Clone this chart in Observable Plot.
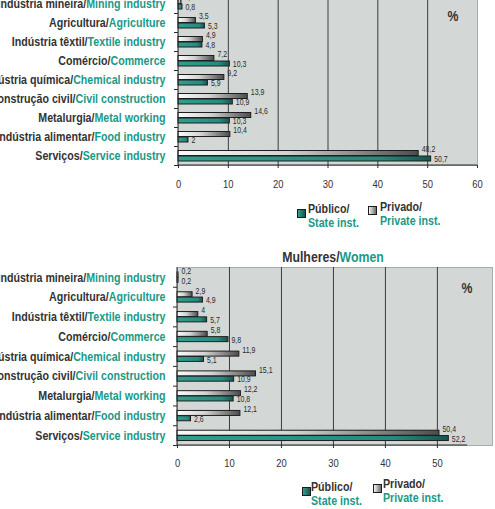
<!DOCTYPE html>
<html>
<head>
<meta charset="utf-8">
<script src="https://cdn.jsdelivr.net/npm/d3@7"></script>
<script src="https://cdn.jsdelivr.net/npm/@observablehq/plot@0.6"></script>
<style>
  html, body { margin: 0; padding: 0; }
  body { width: 495px; height: 509px; overflow: hidden; position: relative; background: #fff;
         font-family: "Liberation Sans", Arial, sans-serif; color: #333; }
  .abs { position: absolute; }
  .teal { color: #1a9987; }
  .title { font-weight: bold; font-size: 15px; white-space: nowrap; transform: translate(-50%, -50%) scaleX(0.82); }
  .leg { font-weight: bold; font-size: 13px; line-height: 14px; white-space: nowrap; transform: scaleX(0.82); transform-origin: left top; }
  .sw { width: 7px; height: 7px; border: 1.5px solid #1c1c1c; }
</style>
</head>
<body>
<div id="chartTop" class="abs" style="left:0; top:-10px;"></div>
<div id="chartBottom" class="abs" style="left:0; top:250px;"></div>
<div id="titleBottom" class="abs title" style="left:333px; top:256px;"></div>
<div id="legendTop"></div>
<div id="legendBottom"></div>
<script>
// ---------- data ----------
const categoriesPt = ["Indústria mineira", "Agricultura", "Indústria têxtil", "Comércio", "Indústria química",
  "Construção civil", "Metalurgia", "Indústria alimentar", "Serviços"];
const categoriesEn = ["Mining industry", "Agriculture", "Textile industry", "Commerce", "Chemical industry",
  "Civil construction", "Metal working", "Food industry", "Service industry"];
const menPublic  = [0.8, 5.3, 4.8, 10.3, 5.9, 10.9, 10.3, 2, 50.7];
const menPrivate = [0.6, 3.5, 4.9, 7.2, 9.2, 13.9, 14.6, 10.4, 48.2];
const womenPublic  = [0.2, 4.9, 5.7, 9.8, 5.1, 10.9, 10.8, 2.6, 52.2];
const womenPrivate = [0.2, 2.9, 4, 5.8, 11.9, 15.1, 12.2, 12.1, 50.4];
const menTicks = [0, 10, 20, 30, 40, 50, 60];
const womenTicks = [0, 10, 20, 30, 40, 50];
const unitLabel = "%";
const titleWomenPt = "Mulheres/";
const titleWomenEn = "Women";
const legendPt = ["Público/", "Privado/"];
const legendEn = ["State inst.", "Private inst."];

// ---------- styling ----------
const TEAL_TEXT = "#1a9987";
const DARK_TEXT = "#333";
const BG = "#d3d8d6";
const FONT = '"Liberation Sans", Arial, sans-serif';
const NARROW = 0.82;

const fmt = v => String(v).replace(".", ",");

function addGradients(svg, id) {
  const defs = d3.select(svg).insert("defs", ":first-child");
  const gp = defs.append("linearGradient").attr("id", id + "-priv").attr("x1", 0).attr("x2", 1).attr("y1", 0).attr("y2", 0);
  gp.append("stop").attr("offset", "0%").attr("stop-color", "#fbfbfb");
  gp.append("stop").attr("offset", "45%").attr("stop-color", "#d2d2d2");
  gp.append("stop").attr("offset", "100%").attr("stop-color", "#4c4c4c");
  const gq = defs.append("linearGradient").attr("id", id + "-pub").attr("x1", 0).attr("x2", 1).attr("y1", 0).attr("y2", 0);
  gq.append("stop").attr("offset", "0%").attr("stop-color", "#2fa090");
  gq.append("stop").attr("offset", "80%").attr("stop-color", "#258b7e");
  gq.append("stop").attr("offset", "100%").attr("stop-color", "#17554e");
}

// compress every text horizontally about its anchor to imitate a narrow typeface
function narrowTexts(svg) {
  d3.select(svg).selectAll("text").each(function() {
    const tr = this.getAttribute("transform");
    if (tr) this.setAttribute("transform", `${tr} scale(${NARROW},1)`);
  });
}

function makeChart(cfg) {
  const labels = categoriesPt.map((p, i) => p + "/" + categoriesEn[i]);
  const rows = labels.map((label, i) => ({label, pub: cfg.pub[i], priv: cfg.priv[i]}));
  const step = (cfg.height - cfg.marginTop - cfg.marginBottom) / labels.length;
  const gridTicks = cfg.ticks.filter(t => t > 0 && t < cfg.xMax);
  const axisLines = (index, scales, values, dims) => {
    const g = d3.create("svg:g");
    const yb = dims.height - dims.marginBottom;
    g.append("line").attr("x1", scales.x(0)).attr("x2", scales.x(cfg.axisEnd))
      .attr("y1", yb).attr("y2", yb).attr("stroke", "#2a2a2a");
    g.append("line").attr("x1", scales.x(0)).attr("x2", scales.x(0))
      .attr("y1", dims.marginTop).attr("y2", yb).attr("stroke", "#2a2a2a");
    return g.node();
  };
  const svg = Plot.plot({
    width: 495,
    height: cfg.height,
    marginTop: cfg.marginTop,
    marginBottom: cfg.marginBottom,
    marginLeft: cfg.marginLeft,
    marginRight: cfg.marginRight,
    x: {domain: [0, cfg.xMax]},
    y: {domain: labels, padding: 0, round: false},
    style: {fontFamily: FONT, color: DARK_TEXT, background: "transparent", overflow: "visible"},
    marks: [
      Plot.frame({fill: BG, stroke: "#a8adab"}),
      Plot.gridX({ticks: gridTicks, stroke: "#3c3c3c", strokeOpacity: 1}),
      Plot.barX(rows, {y: "label", x: "priv", fill: `url(#${cfg.id}-priv)`, stroke: "#1e1e1e", strokeWidth: 1,
        insetTop: cfg.privTop, insetBottom: step - cfg.privTop - cfg.barH}),
      Plot.barX(rows, {y: "label", x: "pub", fill: `url(#${cfg.id}-pub)`, stroke: "#1e1e1e", strokeWidth: 1,
        insetTop: cfg.pubTop, insetBottom: step - cfg.pubTop - cfg.barH}),
      Plot.text(rows, {y: "label", x: "priv", text: d => fmt(d.priv), textAnchor: "start", dx: 3,
        dy: cfg.privTop - 1.5 - step / 2, fontSize: 8.5, fill: "#2a2a2a"}),
      Plot.text(rows, {y: "label", x: "pub", text: d => fmt(d.pub), textAnchor: "start", dx: 3,
        dy: cfg.pubTop + cfg.barH / 2 - step / 2 + 0.5, fontSize: 8.5, fill: "#2a2a2a"}),
      axisLines,
      Plot.axisX({ticks: cfg.ticks, tickSize: 3, tickPadding: cfg.xPad, fontSize: 11.5, label: null, stroke: "#2a2a2a"}),
      Plot.axisY({tickSize: 4, tickFormat: () => "", dy: step / 2, label: null, stroke: "#2a2a2a"}),
      Plot.axisY({tickSize: 0, tickPadding: cfg.yPad, fontSize: 13, fontWeight: "bold", label: null}),
      Plot.text([unitLabel], {frameAnchor: "top-right", dx: cfg.pctDx, dy: cfg.pctDy, fontSize: 15,
        fontWeight: "bold", fill: DARK_TEXT})
    ]
  });
  addGradients(svg, cfg.id);
  // colour the English half of each category label
  d3.select(svg).selectAll('g[aria-label="y-axis tick label"] text').each(function() {
    const t = d3.select(this);
    const s = t.text();
    const k = s.indexOf("/");
    if (k < 0) return;
    t.text(null);
    t.append("tspan").text(s.slice(0, k + 1));
    t.append("tspan").attr("fill", TEAL_TEXT).text(s.slice(k + 1));
  });
  narrowTexts(svg);
  return svg;
}

document.getElementById("chartTop").append(makeChart({
  id: "men", pub: menPublic, priv: menPrivate, ticks: menTicks, xMax: 60, axisEnd: 60,
  height: 205, marginTop: 4, marginBottom: 30, marginLeft: 178, marginRight: 18,
  privTop: 4.5, pubTop: 10, barH: 5, xPad: 11, yPad: 13, pctDx: -19, pctDy: 16
}));
document.getElementById("chartBottom").append(makeChart({
  id: "women", pub: womenPublic, priv: womenPrivate, ticks: womenTicks, xMax: 60.6, axisEnd: 55.8,
  height: 230, marginTop: 17, marginBottom: 35, marginLeft: 177, marginRight: 3,
  privTop: 5, pubTop: 10.3, barH: 5, xPad: 10, yPad: 12, pctDx: -20, pctDy: 15
}));

// title
const tb = document.getElementById("titleBottom");
tb.append(titleWomenPt);
const tw = document.createElement("span"); tw.className = "teal"; tw.textContent = titleWomenEn; tb.append(tw);

// legends
function legend(el, items) {
  items.forEach(it => {
    const sw = document.createElement("div");
    sw.className = "abs sw";
    sw.style.left = it.sx + "px"; sw.style.top = it.sy + "px";
    sw.style.background = it.fill;
    el.append(sw);
    const tx = document.createElement("div");
    tx.className = "abs leg";
    tx.style.left = it.tx + "px"; tx.style.top = it.ty + "px";
    tx.append(it.pt);
    tx.append(document.createElement("br"));
    const en = document.createElement("span"); en.className = "teal"; en.textContent = it.en; tx.append(en);
    el.append(tx);
  });
}
const pubFill = "linear-gradient(90deg,#2fa090,#17554e)";
const privFill = "linear-gradient(90deg,#f5f5f5,#6a6a6a)";
legend(document.getElementById("legendTop"), [
  {sx: 297, sy: 209, tx: 308, ty: 202, pt: legendPt[0], en: legendEn[0], fill: pubFill},
  {sx: 368, sy: 206, tx: 380, ty: 200, pt: legendPt[1], en: legendEn[1], fill: privFill}
]);
legend(document.getElementById("legendBottom"), [
  {sx: 302, sy: 487, tx: 311, ty: 480, pt: legendPt[0], en: legendEn[0], fill: pubFill},
  {sx: 373, sy: 484, tx: 383, ty: 477, pt: legendPt[1], en: legendEn[1], fill: privFill}
]);
</script>
</body>
</html>
